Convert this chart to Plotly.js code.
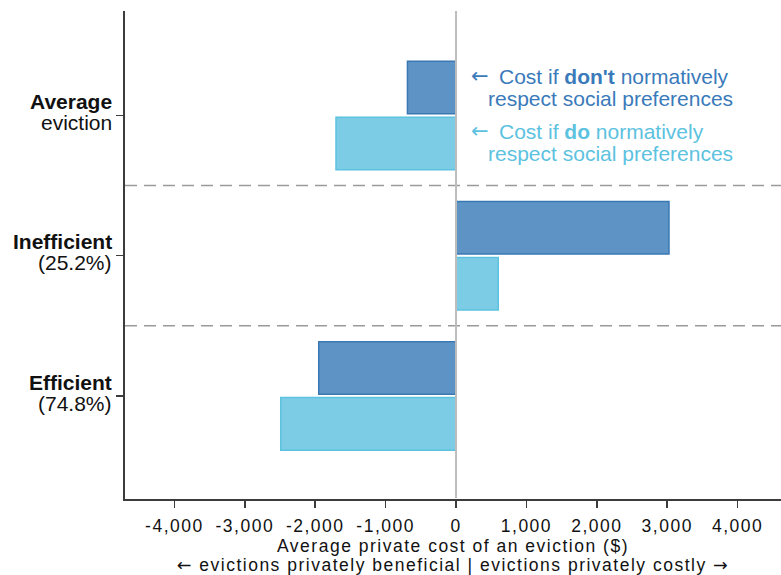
<!DOCTYPE html>
<html>
<head>
<meta charset="utf-8">
<script src="https://cdn.plot.ly/plotly-3.0.1.min.js"></script>
<style>
  html, body { margin: 0; padding: 0; background: #fff; }
  #chart { width: 781px; height: 575px; }
  .xtick text, text.xtitle, g.annotation[data-index="0"] text { letter-spacing: 1.5px; }
</style>
</head>
<body>
<div id="chart"></div>
<script>
// ---- data ----
const categories = ['Average', 'Inefficient', 'Efficient'];
const subLabels = ['eviction', '(25.2%)', '(74.8%)'];
const costDont = [-690, 3025, -1950];   // Cost if don't normatively respect social preferences
const costDo = [-1705, 600, -2490];     // Cost if do normatively respect social preferences
const xTickVals = [-4000, -3000, -2000, -1000, 0, 1000, 2000, 3000, 4000];
const xTickLabels = ['-4,000', '-3,000', '-2,000', '-1,000', '0', '1,000', '2,000', '3,000', '4,000'];
const seriesNames = ["Cost if <b>don't</b> normatively", 'Cost if <b>do</b> normatively'];
const seriesSub = 'respect social preferences';
const xTitleLines = ['Average private cost of an eviction ($)',
  'evictions privately beneficial | evictions privately costly'];

// ---- styling ----
const darkFill = '#5e94c5', darkLine = '#3a78b4', darkText = '#3a7aba';
const lightFill = '#7dcce6', lightLine = '#5cc2e0', lightText = '#5cc2e0';
const FONT = 'Liberation Sans, Arial, Helvetica, sans-serif';
const ARROWFONT = 'DejaVu Sans, sans-serif';
const arrow = (ch) => '<span style="font-family:\'DejaVu Sans\'">' + ch + '</span>';
const LEFT = arrow('\u2190'), RIGHT = arrow('\u2192');

const yPos = categories.map((c, i) => categories.length - 1 - i);

const traces = [
  {
    type: 'bar', orientation: 'h', x: costDont, y: yPos,
    width: 0.375, offset: 0.012,
    marker: { color: darkFill, line: { color: darkLine, width: 1.5 } },
    hoverinfo: 'x', showlegend: false
  },
  {
    type: 'bar', orientation: 'h', x: costDo, y: yPos,
    width: 0.375, offset: -0.387,
    marker: { color: lightFill, line: { color: lightLine, width: 1.5 } },
    hoverinfo: 'x', showlegend: false
  }
];

// second line of the x-axis title (index 0 -> letter-spacing rule above)
const annotations = [{
  xref: 'paper', yref: 'paper', x: 0.5, y: -0.1352, xanchor: 'center', yanchor: 'middle',
  text: LEFT + ' ' + xTitleLines[1] + ' ' + RIGHT, showarrow: false,
  font: { family: FONT, size: 17.5, color: '#111' }
}];
categories.forEach((c, i) => {
  annotations.push({
    xref: 'paper', yref: 'y', x: -0.017, y: yPos[i], xanchor: 'right', yanchor: 'middle',
    yshift: 13.8, text: '<b>' + c + '</b>', showarrow: false,
    font: { family: FONT, size: 21, color: '#111' }
  });
  annotations.push({
    xref: 'paper', yref: 'y', x: -0.017, y: yPos[i], xanchor: 'right', yanchor: 'middle',
    yshift: -7.2, text: subLabels[i], showarrow: false,
    font: { family: FONT, size: 21, color: '#111' }
  });
});
const legendCols = [darkText, lightText];
const legendShift = [[38.55, 17.05], [-16.45, -37.95]];
seriesNames.forEach((n, k) => {
  annotations.push({
    xref: 'x', yref: 'y', x: 0, y: yPos[0], xanchor: 'left', yanchor: 'middle',
    xshift: 13, yshift: legendShift[k][0] + 0.5, text: '\u2190', showarrow: false,
    font: { family: ARROWFONT, size: 21, color: legendCols[k] }
  });
  annotations.push({
    xref: 'x', yref: 'y', x: 0, y: yPos[0], xanchor: 'left', yanchor: 'middle',
    xshift: 41, yshift: legendShift[k][0], text: n, showarrow: false,
    font: { family: FONT, size: 21, color: legendCols[k] }
  });
  annotations.push({
    xref: 'x', yref: 'y', x: 0, y: yPos[0], xanchor: 'left', yanchor: 'middle',
    xshift: 30, yshift: legendShift[k][1], text: seriesSub, showarrow: false,
    font: { family: FONT, size: 21, color: legendCols[k] }
  });
});

const shapes = [];
for (let i = 0; i < yPos.length - 1; i++) {
  const yMid = (yPos[i] + yPos[i + 1]) / 2;
  shapes.push({
    type: 'line', xref: 'paper', yref: 'y', x0: 0, x1: 1, y0: yMid, y1: yMid,
    line: { color: '#9a9a9a', width: 1.5, dash: '12px,7px' }, layer: 'above'
  });
}
shapes.push({
  type: 'line', xref: 'x', yref: 'paper', x0: 0, x1: 0, y0: 0.002, y1: 1,
  line: { color: '#bdbdbd', width: 2 }, layer: 'above'
});

const layout = {
  width: 781, height: 575,
  margin: { l: 125, r: 0, t: 11, b: 76 },
  paper_bgcolor: '#fff', plot_bgcolor: '#fff',
  barmode: 'overlay',
  font: { family: FONT, color: '#111' },
  xaxis: {
    range: [-4702, 4616], tickvals: xTickVals, ticktext: xTickLabels,
    showgrid: false, zeroline: false,
    showline: true, linecolor: '#3c3c3c', linewidth: 2,
    ticks: 'outside', ticklen: 7, tickwidth: 1.5, tickcolor: '#3c3c3c',
    ticklabelstandoff: 3,
    tickfont: { family: FONT, size: 17.5, color: '#111' },
    title: {
      text: xTitleLines[0],
      font: { family: FONT, size: 17.5, color: '#111' }, standoff: 5
    }
  },
  yaxis: {
    range: [-0.735, 2.745], tickvals: yPos, ticktext: yPos.map(() => ''),
    showgrid: false, zeroline: false,
    showline: true, linecolor: '#3c3c3c', linewidth: 2,
    ticks: 'outside', ticklen: 7, tickwidth: 1.5, tickcolor: '#3c3c3c'
  },
  annotations: annotations,
  shapes: shapes
};

Plotly.newPlot('chart', traces, layout, { displayModeBar: false, staticPlot: true });
</script>
</body>
</html>
